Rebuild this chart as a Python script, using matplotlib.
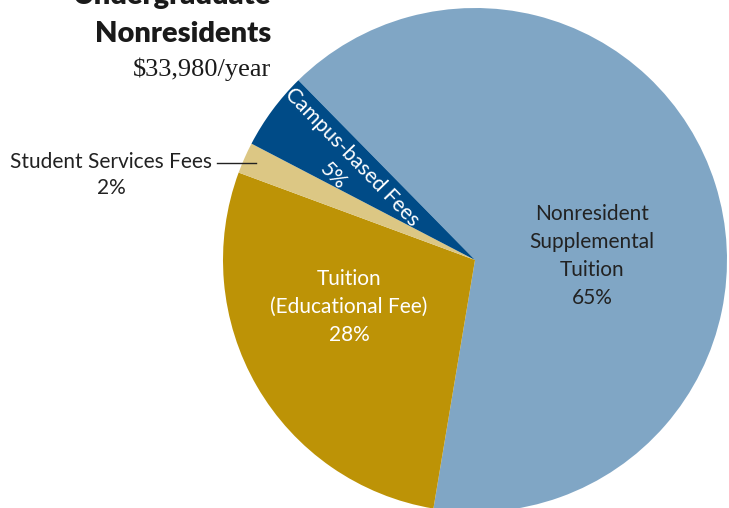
import matplotlib.pyplot as plt

# slice data, clockwise from the upper-left edge of the big slice
labels = ['Nonresident\nSupplemental\nTuition', 'Tuition\n(Educational Fee)', 'Student Services Fees', 'Campus-based Fees']
shares = [65, 28, 2, 5]
colors = ['#80a6c5', '#bd9306', '#dcc784', '#004b87']

W, H = 729, 508
fig = plt.figure(figsize=(W / 100, H / 100), dpi=100)
ax = fig.add_axes([0, 0, 1, 1])

cx, cy, r = 475, H - 260, 252
wedges, _ = ax.pie(shares, colors=colors, startangle=134.5, counterclock=False,
                   center=(cx, cy), radius=r, frame=True,
                   wedgeprops=dict(linewidth=0))
ax.set_xlim(0, W)
ax.set_ylim(0, H)
ax.set_aspect('equal')
ax.axis('off')

lab_font = dict(family='Lato', fontsize=15, ha='center', va='center', linespacing=1.5)

# big slice
ax.text(592, H - 256, labels[0] + '\n%d%%' % shares[0], color='#222222', **lab_font)
# tuition
ax.text(349, H - 307, labels[1] + '\n%d%%' % shares[1], color='white', **lab_font)
# student services, outside with leader
ax.text(111, H - 162, labels[2], color='#222222', **lab_font)
ax.text(111, H - 188, '%d%%' % shares[2], color='#222222', **lab_font)
ax.plot([217, 256], [H - 163, H - 163], color='#222222', lw=1)
# campus-based, rotated along slice
ax.text(352, H - 157, labels[3], color='white', rotation=-46, rotation_mode='anchor', **lab_font)
ax.text(333, H - 176, '%d%%' % shares[3], color='white', rotation=-46, rotation_mode='anchor', **lab_font)

# heading
ax.text(271, H - 4, 'Undergraduate', fontsize=21, fontweight='heavy', family='Lato',
        ha='right', va='baseline', color='#1a1a1a')
ax.text(271, H - 42, 'Nonresidents', fontsize=21, fontweight='heavy', family='Lato',
        ha='right', va='baseline', color='#1a1a1a')
ax.text(271, H - 76, '$33,980/year', fontsize=19, family='Liberation Serif',
        ha='right', va='baseline', color='#1a1a1a')

fig.savefig('out.png', dpi=100)
